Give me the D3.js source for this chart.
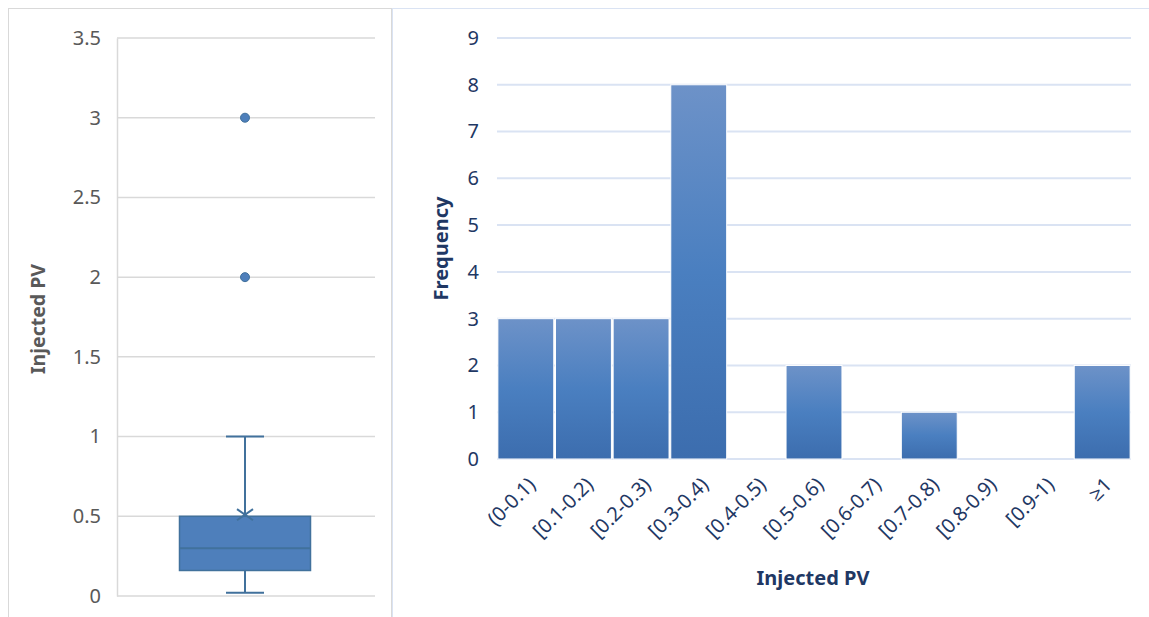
<!DOCTYPE html>
<html>
<head>
<meta charset="utf-8">
<script src="https://cdn.jsdelivr.net/npm/d3@7"></script>
<style>
  body { margin: 0; background: #fff; }
  text { font-family: "Noto Sans", "Open Sans", sans-serif; }
</style>
</head>
<body>
<div id="chart-area"></div>
<script>
//============================DATA============================
// box plot summary
var boxStats = { min: 0.02, q1: 0.16, median: 0.3, q3: 0.5, max: 1.0, mean: 0.51 };
var outliers = [2, 3];
var boxTicks = [0, 0.5, 1, 1.5, 2, 2.5, 3, 3.5];

// histogram
var bins = ["(0-0.1)", "[0.1-0.2)", "[0.2-0.3)", "[0.3-0.4)", "[0.4-0.5)", "[0.5-0.6)",
            "[0.6-0.7)", "[0.7-0.8)", "[0.8-0.9)", "[0.9-1)", "\u22651"];
var counts = [3, 3, 3, 8, 0, 2, 0, 1, 0, 0, 2];
var freqTicks = [0, 1, 2, 3, 4, 5, 6, 7, 8, 9];

//============================SVG============================
var svg = d3.select("#chart-area")
    .append("svg")
    .attr("width", 1149)
    .attr("height", 617);

// gradient for the bars
var grad = svg.append("defs").append("linearGradient")
    .attr("id", "barGrad")
    .attr("x1", 0).attr("y1", 0).attr("x2", 0).attr("y2", 1);
grad.append("stop").attr("offset", "0%").attr("stop-color", "#6d92c8");
grad.append("stop").attr("offset", "50%").attr("stop-color", "#4a7fc0");
grad.append("stop").attr("offset", "100%").attr("stop-color", "#3c6dae");

// panel borders
svg.append("rect")
    .attr("x", 8.5).attr("y", 8.5).attr("width", 383).attr("height", 620)
    .attr("fill", "none").attr("stroke", "#d9d9d9");
svg.append("rect")
    .attr("x", 392.5).attr("y", 8.5).attr("width", 770).attr("height", 620)
    .attr("fill", "none").attr("stroke", "#dae3f3");

//========================BOX PLOT (left)=======================
var left = { x0: 117, x1: 375, top: 38, bottom: 596 };

var yBox = d3.scaleLinear()
    .domain([0, 3.5])
    .range([left.bottom, left.top]);

var gBox = svg.append("g");

// grid
gBox.selectAll(".grid")
    .data(boxTicks)
    .enter().append("line")
    .attr("x1", left.x0).attr("x2", left.x1)
    .attr("y1", function(d){ return yBox(d); })
    .attr("y2", function(d){ return yBox(d); })
    .attr("stroke", "#d9d9d9")
    .attr("stroke-width", 1.5);

// y axis
var yBoxAxis = d3.axisLeft(yBox).tickValues(boxTicks).tickSize(0).tickPadding(16)
    .tickFormat(function(d){ return d; });
gBox.append("g")
    .attr("transform", "translate(" + left.x0 + ",0)")
    .call(yBoxAxis)
    .call(function(g){
        g.select(".domain").attr("stroke", "#d9d9d9").attr("stroke-width", 1.5);
        g.selectAll("text").attr("fill", "#595959").attr("font-size", "20px")
            .attr("font-family", "\"Noto Sans\", sans-serif");
    });

gBox.append("text")
    .attr("transform", "translate(45," + ((left.top + left.bottom) / 2 + 2) + ") rotate(-90)")
    .attr("text-anchor", "middle")
    .attr("font-size", "19.5px")
    .attr("font-weight", "bold")
    .attr("fill", "#595959")
    .text("Injected PV");

var cx = 245, boxW = 131, capW = 38;
var boxColor = "#4e7fbb", lineColor = "#41719c";

// whiskers
gBox.append("line")
    .attr("x1", cx).attr("x2", cx)
    .attr("y1", yBox(boxStats.max)).attr("y2", yBox(boxStats.q3))
    .attr("stroke", lineColor).attr("stroke-width", 2);
gBox.append("line")
    .attr("x1", cx).attr("x2", cx)
    .attr("y1", yBox(boxStats.q1)).attr("y2", yBox(boxStats.min))
    .attr("stroke", lineColor).attr("stroke-width", 2);
[boxStats.max, boxStats.min].forEach(function(v){
    gBox.append("line")
        .attr("x1", cx - capW / 2).attr("x2", cx + capW / 2)
        .attr("y1", yBox(v)).attr("y2", yBox(v))
        .attr("stroke", lineColor).attr("stroke-width", 2);
});

// box
gBox.append("rect")
    .attr("x", cx - boxW / 2)
    .attr("y", yBox(boxStats.q3))
    .attr("width", boxW)
    .attr("height", yBox(boxStats.q1) - yBox(boxStats.q3))
    .attr("fill", boxColor)
    .attr("stroke", lineColor).attr("stroke-width", 1.5);
gBox.append("line")
    .attr("x1", cx - boxW / 2).attr("x2", cx + boxW / 2)
    .attr("y1", yBox(boxStats.median)).attr("y2", yBox(boxStats.median))
    .attr("stroke", lineColor).attr("stroke-width", 2);

// mean marker (x)
var m = 8, my = yBox(boxStats.mean);
gBox.append("path")
    .attr("d", "M" + (cx - m) + "," + (my - m * 0.7) + "L" + (cx + m) + "," + (my + m * 0.7) +
               "M" + (cx - m) + "," + (my + m * 0.7) + "L" + (cx + m) + "," + (my - m * 0.7))
    .attr("stroke", lineColor).attr("stroke-width", 2).attr("fill", "none");

// outliers
gBox.selectAll(".outlier")
    .data(outliers)
    .enter().append("circle")
    .attr("cx", cx)
    .attr("cy", function(d){ return yBox(d); })
    .attr("r", 4.5)
    .attr("fill", "#4e7fbb")
    .attr("stroke", "#41719c");

//========================HISTOGRAM (right)=======================
var right = { x0: 497, x1: 1131, top: 38, bottom: 459 };

var x = d3.scaleBand()
    .domain(bins)
    .range([right.x0, right.x1])
    .paddingInner(0.03)
    .paddingOuter(0.015);

var y = d3.scaleLinear()
    .domain([0, 9])
    .range([right.bottom, right.top]);

var gHist = svg.append("g");

gHist.selectAll(".grid")
    .data(freqTicks)
    .enter().append("line")
    .attr("x1", right.x0).attr("x2", right.x1)
    .attr("y1", function(d){ return y(d); })
    .attr("y2", function(d){ return y(d); })
    .attr("stroke", "#dae3f3")
    .attr("stroke-width", 2);

var yAxis = d3.axisLeft(y).tickValues(freqTicks).tickSize(0).tickPadding(18);
gHist.append("g")
    .attr("transform", "translate(" + right.x0 + ",0)")
    .call(yAxis)
    .call(function(g){
        g.select(".domain").remove();
        g.selectAll("text").attr("fill", "#1f3864").attr("font-size", "20px")
            .attr("font-family", "\"Noto Sans\", sans-serif");
    });

gHist.selectAll(".bar")
    .data(counts)
    .enter().append("rect")
    .attr("x", function(d, i){ return x(bins[i]); })
    .attr("y", function(d){ return y(d); })
    .attr("width", x.bandwidth())
    .attr("height", function(d){ return y(0) - y(d); })
    .attr("fill", "url(#barGrad)")
    .attr("stroke", "#ffffff")
    .attr("stroke-width", 1);

var xAxis = d3.axisBottom(x).tickSize(0).tickPadding(0);
gHist.append("g")
    .attr("transform", "translate(0," + right.bottom + ")")
    .call(xAxis)
    .call(function(g){
        g.select(".domain").remove();
        g.selectAll("text")
            .attr("fill", "#1f3864")
            .attr("font-size", "20px")
            .attr("font-family", "\"Noto Sans\", sans-serif")
            .attr("text-anchor", "end")
            .attr("dy", "0.35em")
            .attr("transform", "translate(6,22) rotate(-45)");
    });

gHist.append("text")
    .attr("x", (right.x0 + right.x1) / 2 - 1)
    .attr("y", 585)
    .attr("text-anchor", "middle")
    .attr("font-size", "20px")
    .attr("font-weight", "bold")
    .attr("fill", "#1f3864")
    .text("Injected PV");

gHist.append("text")
    .attr("transform", "translate(448," + ((right.top + right.bottom) / 2) + ") rotate(-90)")
    .attr("text-anchor", "middle")
    .attr("font-size", "20px")
    .attr("font-weight", "bold")
    .attr("fill", "#1f3864")
    .text("Frequency");
</script>
</body>
</html>
